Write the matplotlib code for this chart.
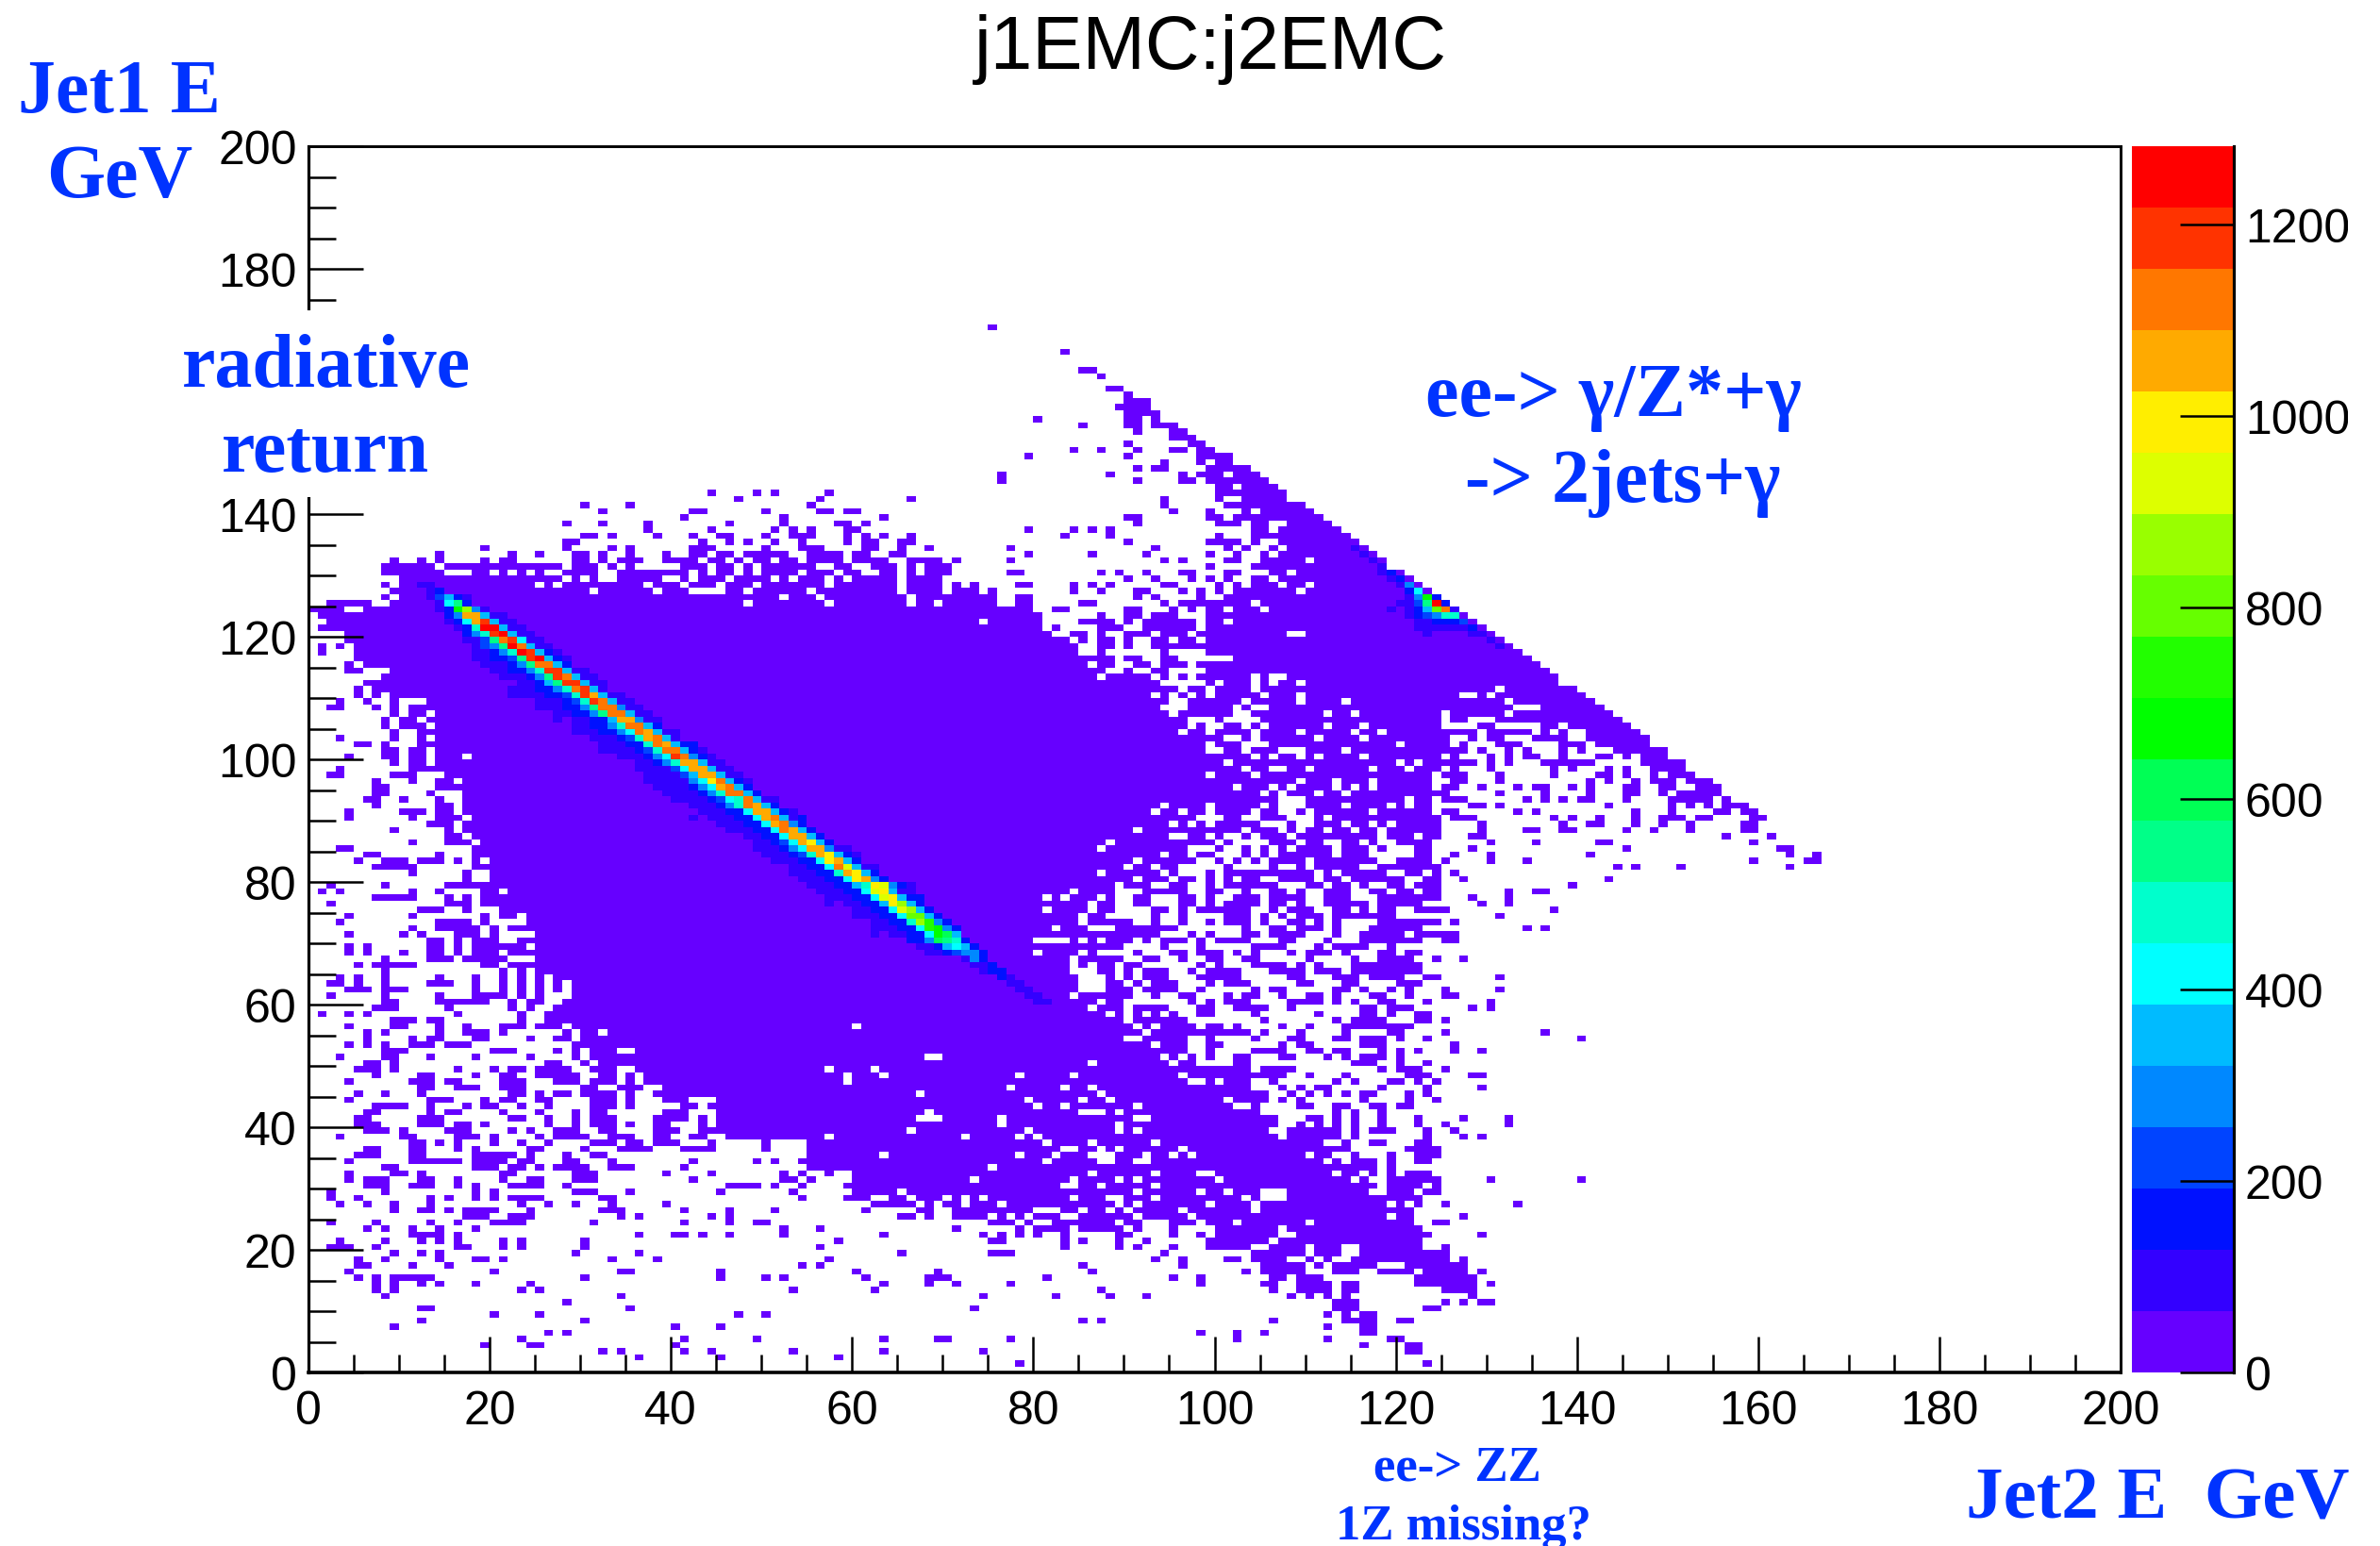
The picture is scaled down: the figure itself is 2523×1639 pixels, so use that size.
import numpy as np
import matplotlib
matplotlib.use("Agg")
import matplotlib.pyplot as plt
from matplotlib.colors import ListedColormap, BoundaryNorm
from matplotlib.patches import Rectangle
from matplotlib.ticker import MultipleLocator
from matplotlib.transforms import Bbox

W, H_PX = 2523, 1640
N_BINS = 200
BLUE = "#0033ff"

# palette of the colour bar, bottom to top, and its range
palette = ["#6600ff", "#3300ff", "#0011ff", "#0044ff", "#0088ff", "#00bbff", "#00ffff",
           "#00ffcc", "#00ff88", "#00ff55", "#00ff00", "#22ff00", "#66ff00", "#99ff00",
           "#ddff00", "#ffee00", "#ffaa00", "#ff7700", "#ff3300", "#ff0000"]
z_max = 1282
z_ticks = [0, 200, 400, 600, 800, 1000, 1200]
axis_ticks = [0, 20, 40, 60, 80, 100, 120, 140, 160, 180, 200]

# filled bins of the low count background, by Jet1 bin: "first-last" runs of Jet2 bins
background_count = 20
top_rows = {
    170: "75", 166: "83", 163: "85-86", 162: "87", 160: "88-89", 159: "90", 158: "90-92",
    157: "89-92", 156: "90-93", 155: "80 90-91 93", 154: "85 90-91 93-95", 153: "91 95-96",
    152: "95-97", 151: "90 97-98", 150: "84 87 91 95-96 98-99", 149: "79 90 98-101",
    148: "94 98 100-101", 147: "91 93-94 99-103", 146: "76 88 96 98-100 102-104",
    145: "76 91 96-97 99-105", 144: "100-101 103-106", 143: "44 49 51 57 100-107",
    142: "47 56 66 94 100 103-107", 141: "30 35 55 94 101-109",
    140: "32 42-43 50 56-57 59-60 95 99 103 105-110",
    139: "41 52 63 90-91 99-100 102-111",
    138: "28 32 37 46 52 58-59 61 91 100-102 104-105 108-112",
    137: "37 44 51 53 55 59-60 79 84 86 88 104-105 107-113",
    136: "30-31 33 38 42 45-46 50 53-55 59 61 63 66 83 88 100 104-114",
    135: "28-29 43 46 48 51 54 59 61-62 65-66 90 99-102 104 107-115",
    134: "19 28 33 35 42-44 50 54-56 61-62 65 68 77 93 101 103 106 108-116",
    133: "14 22 25 29-30 32 35 39 42-43 45-46 48-52 55-58 60-61 64-65 79 86 92 99 102 105 107-117",
    132: "9 12 14 19 21-22 29-30 32 34-36 39-42 44-45 47 49-50 52-53 55-58 60-63 66-69 71 77 94 96 101-102 105-109 111-118",
    131: "8-13 15-27 29-31 33 35 41-43 45-46 48 50-55 58-59 62-64 66 68-70 99 104-118",
    130: "8-14 18-19 21 23 25 28-31 34-41 43 45-46 48 50-53 55-57 59-60 63-64 66 68-70 77-78 87 89 92 96-97 101-102 106-107 109-120",
    129: "10-27 29 31 34-38 41 43-45 47-50 52 54-56 58 60-64 66-69 90 93 97 99 101 104-105 107-121",
    128: "8 10-24 26 28-36 38-40 42-44 46-48 50-56 58-64 66-69 71 73 78-79 84 86 88 94-95 100 102 104-106 108-109 111-122",
    127: "9-30 32-37 39-41 46-47 49-54 56-64 66-69 71-73 75 84 87 91-92 96 98 100 102-108 110-123",
    126: "8 10-51 53-55 57-65 67-75 78-79 91 93 98 101-124",
}
body_rows = {
    125: "2-6 9-47 49-56 58-65 67-68 70-75 78-79 85-86 94 96-103 105-125",
    124: "0-3 6-79 82-83 90-91 95 97 99-100 102-104 106-126",
    123: "1-80 87 90-91 93-95 99-127",
    122: "2-73 75-80 85-88 90 92-97 99-100 102-128",
    121: "1-80 82 87-89 92-97 99-129",
    120: "4-81 84-85 87 90-92 94-96 98-107 110-130",
    119: "4-83 85 87-88 90 93-94 96-97 99-131",
    118: "1 3 5-84 87-88 90 93-132",
    117: "1 5-84 87 94 99-133",
    116: "5-88 90-91 94-95 102-134",
    115: "4 6-85 87-88 91-92 94-96 98-135",
    114: "4-5 9-87 90 93-94 99-136",
    113: "8-86 88-92 94 96 98-103 105 108-137",
    112: "6-93 99 101-103 105 107-108 110-137",
    111: "5 7-95 97-98 100-103 105-130 132-139",
    110: "5 7 9-92 94 96 98 100-104 106-108 110-126 129 131-140",
    109: "3 6 9 13-94 97-102 104-108 110-113 115-131 133-141",
    108: "2-3 7 9 11-93 97-101 103 106-132 136-142",
    107: "9 11-12 14-94 96-101 104-111 113-114 116-124 126-131 133-143",
    106: "8 10-11 13-96 100 105-124 126-127 131-144",
    105: "8 10-12 14-96 98 101-102 104 106-111 113-115 117-124 129-130 136-137 139-145",
    104: "9 12-95 97-98 100-103 105-108 110-114 116-117 119-128 130-134 136 138 141-146",
    103: "3 9 12 14-100 103 105-110 112-115 117-125 128 130-131 135-138 141-147",
    102: "5-6 8 12-98 100-102 106-119 121-125 127 131-133 138-140 142-147",
    101: "8-9 11-12 14-98 101-102 104-106 110-113 115-127 129 132 134 138 140 144-149",
    100: "4 8-9 11-12 14-16 18-103 105 107-108 110 112-115 117-124 126 130 132 134-135 138 142-143 145 147-149",
    99: "9 11-12 14-100 102-119 121 123-128 130 132 136-141 147-151",
    98: "3 11-102 104-105 108-109 111-116 118-120 122-124 126 130 137 139 143 145 148-151",
    97: "2-3 9-11 15-98 100-103 105-123 125-127 131 137 142-143 145 148 150-152",
    96: "7 11 14-15 17-108 110-112 114-116 118-123 126-127 131 141 143 146 148-150 152-154",
    95: "7-8 14-101 103-105 107 109-112 114 116 118-123 125-126 129 133 135-136 139 141 145-146 149-150 153-155",
    94: "7-8 13 17-104 106 108-110 112-113 115-125 131 136 141 145-146 149 151-155",
    93: "6-7 10 14 17-106 110-120 122-123 125-127 134 136 138 140-141 145 150-154 156",
    92: "7 14-15 17-93 95-98 100-104 106 110-113 115-118 120 122-123 128-129 131 143 150 152 154 156-158",
    91: "4 10-12 14-15 17-92 94-95 97-98 100-103 105-106 109 111-116 118-123 125-126 133 135 146 150 155-156 158-159",
    90: "4 11 14-16 18-97 101-102 105-107 111 113-124 126-128 137 139 142 146 149-151 153-154 159-160",
    89: "13-15 17-94 96 98 100-104 108 111-113 115-116 118 120-124 129 138 141-142 146 149 152 158-159",
    88: "9 15 17-90 92-102 104-106 108 110-111 113-114 116-117 119-124 129 134-135 138-139 145 148 152 158-159",
    87: "15-16 18-94 97-98 100 103 105-107 109-117 119-121 123-124 128-129 156 161",
    86: "11 15-17 19-87 89-99 101 106-108 110-111 114-115 117 120-123 130 135 142-143 159",
    85: "3-4 18-86 88-96 100 103 105 107 109-112 114-116 118 122-123 128 145 162-163",
    84: "6-7 14 18-93 95-96 98-99 103 105 107-112 114-116 122-123 126 130 141 163 166",
    83: "5 8-10 12-14 16 18 20-90 92-97 100 102 104 106-109 111-117 120-123 125 130 134 159 165-166",
    82: "7-11 18-89 91-92 94-95 101 106 109 111-115 118-124 144 146 151 163",
    81: "11 17 20-86 88-93 95 99 101-110 112 114-118 121-122 124 126",
    80: "17 20-90 92-94 96-97 99 101 103-104 107-110 112-113 115-120 123-124 127 143",
    79: "2 8 15-18 19-88 90-92 95-96 99 101-106 110-111 113-114 116 119-120 122-124 139",
    78: "1 3 11 14 19-20 22-83 85-88 92-96 99-100 103 106-107 109 112-114 117-118 120-121 123-124 132 135-136",
    77: "7-11 15 17 19-80 82 84-86 88 91-92 96-97 99 102-104 106-109 112-114 118-124 128 132",
    76: "2 15-17 19-85 87-88 91-92 96-97 99 101-104 106-107 109 112-116 118-122 129 132",
    75: "12-14 17 21-80 82-85 87-88 93-94 96 98-103 106 108-110 113-114 116 118-119 122-125 137",
    74: "4 11 19 21-22 24-84 86-87 93 96 101-103 105 107 109-111 113-119 131",
    73: "3 14-17 19 24-84 86-90 93 96 99 101-103 105 108-109 111 113 118-124 126",
    72: "11 14-18 20 22-81 83-85 89-95 103 106-107 109-111 113 117-122 134 136",
    71: "4 10 12 16-18 20 25-93 97 99 103-104 106-109 113 116-120 122-126",
    70: "13-14 16 18-20 23-79 84 86 88-90 92 94-96 98 100-103 107-108 112 116-122 125-126",
    69: "4 6 13-14 16 18-23 25-89 94 98 104-107 111 113-116 119",
    68: "4 6 10 13-14 16 18-20 22-79 81-84 86 91 95-96 98-100 102 104 108 110-112 114 118-119 121-122",
    67: "8 13-15 17-21 25-83 85-89 92-93 96 99-100 103-104 110 115 118-121 124 127",
    66: "5 7-11 19-20 22-83 85 87-88 90-91 98 100 104-107 109 111 115-122",
    65: "8 21 23 25-83 87-88 90 92-94 97 99-102 106-109 111-113 115-122",
    64: "3 5 8 14 18 21 23 25 27-84 88 90 92-94 98-102 108-109 113-115 117-120 123-124 131",
    63: "2-3 5 8 13-15 18 21 23 25 27 29-84 88-89 91 93-95 99 101-103 109-110 114-115 120-122",
    62: "4-6 8-10 18 21 23 25 27 29-84 88-90 92-95 98 104 106-107 113-114 116 119 121 125 131",
    61: "2 8 14 18-21 23 25 29-83 85-90 93 96-97 101 103-104 107 110-111 113 117-118 121 125-126",
    60: "8-9 14-19 22 24-25 28-86 88-89 97 99 101-103 108-111 113 115 118-119 123 130",
}
low_rows = {
    59: "7-9 15 22 24 27-85 87-89 91-94 98-99 102-105 108 116-117 119-121 128 130",
    58: "1 4 6 16 23 26-87 89 91 93 95 98-99 104 111 116-117 119 122-123",
    57: "9-11 13-14 23 26-89 91-96 105 113 115-118 122-123 125",
    56: "4 9-10 14 17 21-23 25-27 29-59 61-90 92 94-97 99-100 102 107 110 114-121",
    55: "6 8 14 17-19 21 28 30-31 33-91 93-103 105 109 114 119-120 125 136",
    54: "6 11 13-14 18-19 24 27-28 30-89 92-96 99 104 108-109 113-114 116-118 120 123 140",
    53: "4 6 8 11-13 15-17 29-92 94-96 99-100 107 109-110 116-118 126",
    52: "8-10 20-22 27 29 31-33 36-96 99 104-107 110-111 113-114 118 120 122 126 129",
    51: "3 8-9 13 18 24 29 31-67 70-93 95 97 99 102-103 107-108 112 114 116-118 120",
    50: "6-7 9 26-27 30 32-85 87-94 96-97 102-103 115-117 120 123",
    49: "5-7 9 16 20 22-23 25-28 31-33 36-56 58-61 63-103 105-108 118 120-122 125",
    48: "7 12-13 18 21-22 25-29 32-33 35 37-58 60-62 64-77 79-83 85-95 97-107 110 114 121-123 128-129",
    47: "4 11-13 15-16 21-23 27-29 31-33 35 37-58 60-96 99 101-103 106 113 115 119-120 122 124",
    46: "12-13 16-18 21-23 30-31 34-36 39-76 78-82 84-85 87-103 107 109 111-112 118 123 129",
    45: "5 8 12 22-23 25 27-28 30-33 35 38-66 68-86 88-105 108 110 112 114 116-117 121 123",
    44: "4 13-15 19 21-22 25-26 31-33 35 39-41 45-78 80-84 86-87 89-100 102-105 107 109 116 121 124",
    43: "7-10 13 17 19-20 23 26 31-33 35 41-42 44-79 81-82 84-90 92-101 104 109-110 113-114 117-118 120-121",
    42: "6-7 13 15-16 21 25 29 31-32 39-41 45-67 69-84 88 90-104 113 115 118",
    41: "5-6 12-14 22-23 26 29 31-33 38-41 43 45-66 70-75 77-90 93-106 110-111 113 115 118 122 127 132",
    40: "5-7 12-14 16-17 19 26 29 31-33 35 38-39 43 45-75 77-88 90-106 109 111 113 115 118 122 125 132",
    39: "6-8 10 15-17 22 24 27-29 32-33 38-40 43-65 67-78 80-88 90 92-105 108-113 115 117-119 123 126",
    38: "3 10-11 16-18 20 25 27-30 33-35 38-39 42-43 46-56 58-71 73-77 79 81-106 108-113 115 123 127 129",
    37: "11-12 14 16 20 23 26 31-33 35-36 38-40 44 50 55-80 82-85 87-92 94-111 114 117-118 122-123",
    36: "6-7 11-12 16 18 24-25 30 34-37 41-43 44 50 55-82 85-86 88 90-95 97-114 121-124",
    35: "5-7 11-12 18-22 24 28 31-32 55-62 64-77 79-81 83-85 89-91 93-94 96 98-109 111-112 115 119 122-124",
    34: "4 11-16 18-21 23-24 28-29 33 42 49 51 54-80 82-86 89-90 93-111 113 115-117 119 122-123",
    33: "8-9 18-20 22-23 25 27-30 33-35 41 55-74 76-117 119",
    32: "4 9-10 12 21-22 29-31 39 44 52 54 57 60-85 87-92 94-97 100-112 114-115 117 119 121-123",
    31: "4 6-8 12-13 16 21 24-25 29-31 42 52-53 55 60-72 74-83 85-88 90 92-99 101-114 116 119-124 130 140",
    30: "6-8 11-13 16 18 22-25 28 46-49 51 54 59-82 85-86 88-92 94-117 119-122 124",
    29: "2 8 18 20 29-31 35 45 53 60-64 66-90 92-97 99-100 102-104 108-116 119-121 123-124",
    28: "2 5 13 15 18 20 22-25 32-33 54 59-61 64-65 67-69 71 73 75-83 85-87 90-92 94-102 104 108-122",
    27: "3 6 9 13 23 26 29 33 39 62-66 68 70-71 73-75 77-88 90 92-98 100-103 105-118 120 122 125 133",
    26: "9 12-13 15 17-20 24 32-34 41 46 51 61 67-68 71-79 83-84 86-87 89 91-95 97-103 105-121",
    25: "17-19 22-24 34 36 44 46 65-66 68 71-74 76 78 80-82 85-90 92-96 98-118 120-121 127",
    24: "2 7 13 16 20-23 31 41 46 49-50 75-77 79 82-88 90-91 95-97 99-101 103-109 111-121 124-125",
    23: "6 8 11 14 18 52 56 71 78 80-83 85-89 91 95 100-106 108-122",
    22: "11-14 16 36 40-41 43 46 52 63 74 76 78 80 83 89-90 95 98 100-106 109-123 129",
    21: "3 8 12 14 16 21 23 30 58 75-76 83 85 89 92 99-105 107-122",
    20: "2-4 7 16-17 21 23 30 56 83 89 91 95 99-103 106-109 111-113 116-122 125",
    19: "9 12 14 29 36 65 75-77 94 104-109 111-113 116-125",
    18: "5 8 14 18-19 21 33 38 57 93 96 101-102 104-107 110 112 115-125 127",
    17: "5-6 11 15 54 56 85 96 105-109 111 113-117 121-127",
    16: "4 20 34-35 45 60 69 86 103 105-109 113-115 118-121 123-127 129",
    15: "5 7 9-13 30 45 50 52 61 68-70 81 95 98 106-107 109-111 122-128",
    14: "7 9 12 14 18 24 63 68 71 77 98 105-106 109-112 114-115 122-128 130",
    13: "7 9 23 25 53 62 87 106 109-112 114-115 125-128",
    12: "8 34 74 82 88 92 108 110 112 114 128",
    11: "28 113-115 125 127 129-130",
    10: "12-13 35 73 113-115 123-124",
    9: "20 25 47 50 112 114 116-117",
    8: "12 30 85 87 106 114-117 120-121",
    7: "9 40 45 112 116-117",
    6: "26 28 98 102 105 116-117",
    5: "23 41 49 63 69-70 77 102 112 119-120",
    4: "19 24-25 40 116 121-122",
    3: "32 34 41 44 53 63 74 121-122",
    2: "36 45 58",
    1: "78 123",
}

# counts along the main ridge: Jet1 bin -> (first Jet2 bin, counts)
ridge_rows = {
    128: (12, [96, 96]), 127: (13, [96, 160]), 126: (13, [96, 224, 352, 160, 96]),
    125: (14, [96, 416, 544, 160]), 124: (14, [96, 160, 672, 864, 288, 96]),
    123: (15, [160, 288, 1056, 1056, 352, 96, 96]),
    122: (15, [96, 160, 416, 1056, 1184, 352, 96, 96]),
    121: (16, [96, 160, 480, 1248, 1248, 352, 96, 96]),
    120: (17, [160, 288, 480, 1184, 1248, 352, 96, 96]),
    119: (17, [96, 96, 224, 544, 1120, 1184, 416, 96, 96]),
    118: (18, [96, 224, 288, 544, 1248, 1120, 352, 96, 96]),
    117: (18, [96, 96, 160, 288, 480, 1248, 1184, 352, 160, 96]),
    116: (18, [96, 96, 160, 160, 224, 544, 1184, 1248, 352, 160, 96]),
    115: (19, [96, 96, 96, 160, 288, 544, 1120, 1120, 352, 160]),
    114: (20, [96, 96, 160, 160, 288, 480, 1184, 1184, 352, 96, 96]),
    113: (21, [96, 96, 96, 160, 288, 544, 1184, 1120, 352, 96, 96]),
    112: (23, [96, 96, 160, 352, 544, 1184, 1184, 352, 96, 96]),
    111: (22, [96, 96, 96, 160, 160, 288, 480, 1120, 1184, 352, 96]),
    110: (22, [96, 96, 96, 96, 160, 160, 224, 480, 1184, 1056, 352, 96, 96]),
    109: (25, [96, 96, 96, 160, 224, 480, 1184, 1120, 352, 96, 96]),
    108: (25, [96, 96, 96, 160, 160, 288, 544, 1120, 1120, 288, 96, 96]),
    107: (27, [96, 96, 160, 160, 288, 544, 1120, 1120, 352, 96, 96]),
    106: (27, [96, 20, 96, 96, 160, 160, 352, 1056, 1056, 288, 96, 96]),
    105: (29, [96, 96, 160, 160, 288, 480, 1120, 1120, 352, 160]),
    104: (29, [96, 96, 96, 160, 160, 288, 416, 1120, 1056, 352, 96, 96]),
    103: (31, [96, 96, 96, 160, 224, 480, 1056, 1120, 352, 96]),
    102: (32, [96, 96, 96, 160, 160, 480, 1120, 1056, 352, 160, 160]),
    101: (32, [96, 96, 96, 96, 160, 224, 480, 1120, 1120, 352, 160, 96]),
    100: (34, [96, 96, 96, 160, 288, 416, 1184, 1120, 288, 160, 96]),
    99: (36, [96, 96, 160, 288, 480, 1056, 1056, 352, 96, 96]),
    98: (36, [96, 96, 96, 96, 224, 416, 1056, 1056, 352, 96, 96]),
    97: (37, [96, 96, 96, 96, 224, 352, 1056, 1056, 352, 96, 96]),
    96: (37, [96, 96, 96, 96, 96, 288, 416, 992, 1120, 352, 160, 96]),
    95: (38, [96, 96, 96, 96, 160, 288, 416, 1056, 1120, 352, 160]),
    94: (39, [96, 96, 96, 96, 160, 288, 480, 1120, 1120, 352, 160]),
    93: (40, [96, 96, 96, 96, 160, 224, 416, 480, 1120, 352, 96, 96]),
    92: (42, [96, 96, 96, 160, 288, 480, 1120, 1056, 352, 160]),
    91: (43, [96, 96, 96, 160, 160, 416, 1056, 1056, 352, 160, 96]),
    90: (42, [96, 20, 96, 96, 96, 160, 160, 416, 1056, 1120, 352, 96, 160]),
    89: (45, [96, 96, 96, 160, 160, 416, 1056, 1120, 288, 160]),
    88: (46, [96, 96, 96, 160, 160, 416, 1120, 1056, 352, 160]),
    87: (48, [96, 96, 160, 160, 416, 1056, 1056, 352, 160]),
    86: (49, [96, 96, 160, 224, 416, 1056, 992, 352, 160]),
    85: (49, [96, 96, 96, 160, 288, 416, 1056, 1056, 288, 96, 96]),
    84: (50, [96, 96, 96, 160, 224, 480, 1056, 992, 352, 160, 96]),
    83: (51, [96, 96, 96, 160, 160, 416, 992, 1056, 352, 160]),
    82: (53, [96, 96, 160, 160, 416, 1120, 928, 352, 96, 96]),
    81: (53, [96, 96, 96, 160, 160, 480, 1056, 992, 352, 160]),
    80: (54, [96, 96, 96, 160, 160, 416, 992, 1056, 288, 160]),
    79: (55, [96, 96, 96, 160, 160, 352, 480, 992, 928, 288, 160, 96]),
    78: (56, [96, 96, 96, 160, 160, 416, 928, 992, 352, 96, 96]),
    77: (57, [96, 96, 96, 160, 160, 416, 928, 992, 352, 160, 160]),
    76: (57, [96, 20, 96, 96, 160, 160, 352, 992, 864, 352, 160]),
    75: (60, [96, 96, 160, 160, 416, 928, 864, 352, 160]),
    74: (60, [96, 96, 96, 160, 160, 416, 800, 800, 352, 160]),
    73: (62, [96, 96, 160, 160, 480, 864, 736, 288, 160]),
    72: (62, [96, 96, 96, 160, 160, 416, 736, 672, 288, 160]),
    71: (62, [96, 20, 96, 96, 160, 160, 416, 672, 608, 352]),
    70: (66, [160, 160, 288, 608, 544, 480, 160]),
    69: (67, [96, 96, 160, 352, 416, 352, 160]),
    68: (68, [96, 96, 160, 224, 288, 288, 160]),
    67: (72, [96, 288, 160]), 66: (73, [96, 96, 160]), 65: (74, [96, 160, 160]),
    64: (76, [160, 96]), 63: (77, [96, 96]), 62: (78, [96, 96]), 61: (79, [96, 96]),
    60: (80, [96, 96]),
}

# counts around the second peak on the kinematic edge
peak_rows = {
    134: (115, [96]), 133: (116, [96]), 132: (117, [96]), 131: (118, [96]),
    130: (118, [96, 160]), 129: (119, [96, 160]), 128: (120, [96, 288]),
    127: (121, [160, 416]), 126: (121, [96, 288, 672, 160]),
    125: (120, [96, 96, 224, 544, 1248, 160]),
    124: (119, [96, 20, 96, 160, 352, 800, 1120, 96]),
    123: (121, [96, 160, 224, 288, 480, 480]),
    122: (122, [96, 96, 160, 160, 160, 224]),
    121: (122, [96, 96, 96, 96, 96, 96, 160]),
    120: (123, [96, 20, 20, 20, 20, 96, 96]),
    119: (130, [96]), 118: (131, [96]),
}

# fill the histogram
counts = np.zeros((N_BINS, N_BINS))
for rows in (top_rows, body_rows, low_rows):
    for j, text in rows.items():
        for run in text.split():
            a, _, b = run.partition("-")
            counts[j, int(a):int(b or a) + 1] = background_count
for rows in (ridge_rows, peak_rows):
    for j, (first, values) in rows.items():
        counts[j, first:first + len(values)] = values


def fx(px):
    return px / W


def fy(py):
    return 1 - py / H_PX


def frame(left, top, right, bottom):
    return [fx(left), fy(bottom), fx(right) - fx(left), fy(top) - fy(bottom)]


plt.rcParams["font.family"] = ["Liberation Sans", "DejaVu Sans"]
fig = plt.figure(figsize=(W / 100, H_PX / 100), dpi=100)

levels = np.linspace(0, z_max, len(palette) + 1)
cmap = ListedColormap(palette)
norm = BoundaryNorm(levels, cmap.N)
edges = np.arange(N_BINS + 1)

# main histogram
ax = fig.add_axes(frame(327, 156, 2248, 1456))
ax.pcolormesh(edges, edges, np.ma.masked_equal(counts, 0), cmap=cmap, norm=norm,
              antialiased=False, linewidth=0)
ax.set_xlim(0, N_BINS)
ax.set_ylim(0, N_BINS)
ax.set_xticks(axis_ticks)
ax.set_yticks(axis_ticks)
ax.xaxis.set_minor_locator(MultipleLocator(5))
ax.yaxis.set_minor_locator(MultipleLocator(5))
ax.tick_params(axis="x", which="major", direction="in", length=27.5, width=1.8,
               labelsize=36, pad=13)
ax.tick_params(axis="x", which="minor", direction="in", length=13.7, width=1.8)
ax.tick_params(axis="y", which="major", direction="in", length=41.5, width=1.8,
               labelsize=36, pad=9)
ax.tick_params(axis="y", which="minor", direction="in", length=21, width=1.8)
for side in ax.spines.values():
    side.set_linewidth(2.1)
    side.set_zorder(5)
ax.spines["left"].set_linewidth(2.3)
ax.spines["bottom"].set_linewidth(2.6)

# colour bar
cax = fig.add_axes(frame(2260, 156, 2368, 1456))
cax.pcolormesh([0, 1], levels, np.arange(len(palette)).reshape(-1, 1) * 64.1 + 30,
               cmap=cmap, norm=norm, antialiased=False, linewidth=0)
cax.set_xlim(0, 1)
cax.set_ylim(0, z_max)
cax.set_xticks([])
cax.yaxis.tick_right()
cax.set_yticks(z_ticks)
cax.tick_params(axis="y", direction="in", length=41, width=1.8, labelsize=36, pad=8.5)
for name, side in cax.spines.items():
    side.set_visible(name == "right")
cax.spines["right"].set_linewidth(2.3)
for label in cax.get_yticklabels():
    label.set_clip_on(True)
    label.set_clip_box(Bbox([[0, 0], [2489, H_PX]]))

# the pasted text box hides this stretch of the Jet1 axis
fig.add_artist(Rectangle((fx(190), fy(528)), fx(505) - fx(190), fy(330) - fy(528),
                         transform=fig.transFigure, facecolor="white", edgecolor="none",
                         zorder=3))

fig.text(fx(1283), fy(73), "j1EMC:j2EMC", fontsize=57.5, ha="center", va="baseline")

notes = [
    ("Jet1 E", 126, 119, 57.5), ("GeV", 127, 209, 57.5),
    ("radiative", 346, 410, 57.5), ("return", 345, 500, 57.5),
    ("ee-> \u03b3/Z*+\u03b3", 1710, 441, 57.5), ("-> 2jets+\u03b3", 1720, 532, 57.5),
    ("ee-> ZZ", 1545, 1570, 38), ("1Z missing?", 1551, 1632, 38),
    ("Jet2 E  GeV", 2287, 1610, 57),
]
for text, x, y, size in notes:
    fig.text(fx(x), fy(y), text, color=BLUE, fontsize=size, fontweight="bold",
             family=["Liberation Serif", "DejaVu Serif"], ha="center", va="baseline",
             zorder=4)

fig.savefig("out.png", dpi=100, facecolor="white")
